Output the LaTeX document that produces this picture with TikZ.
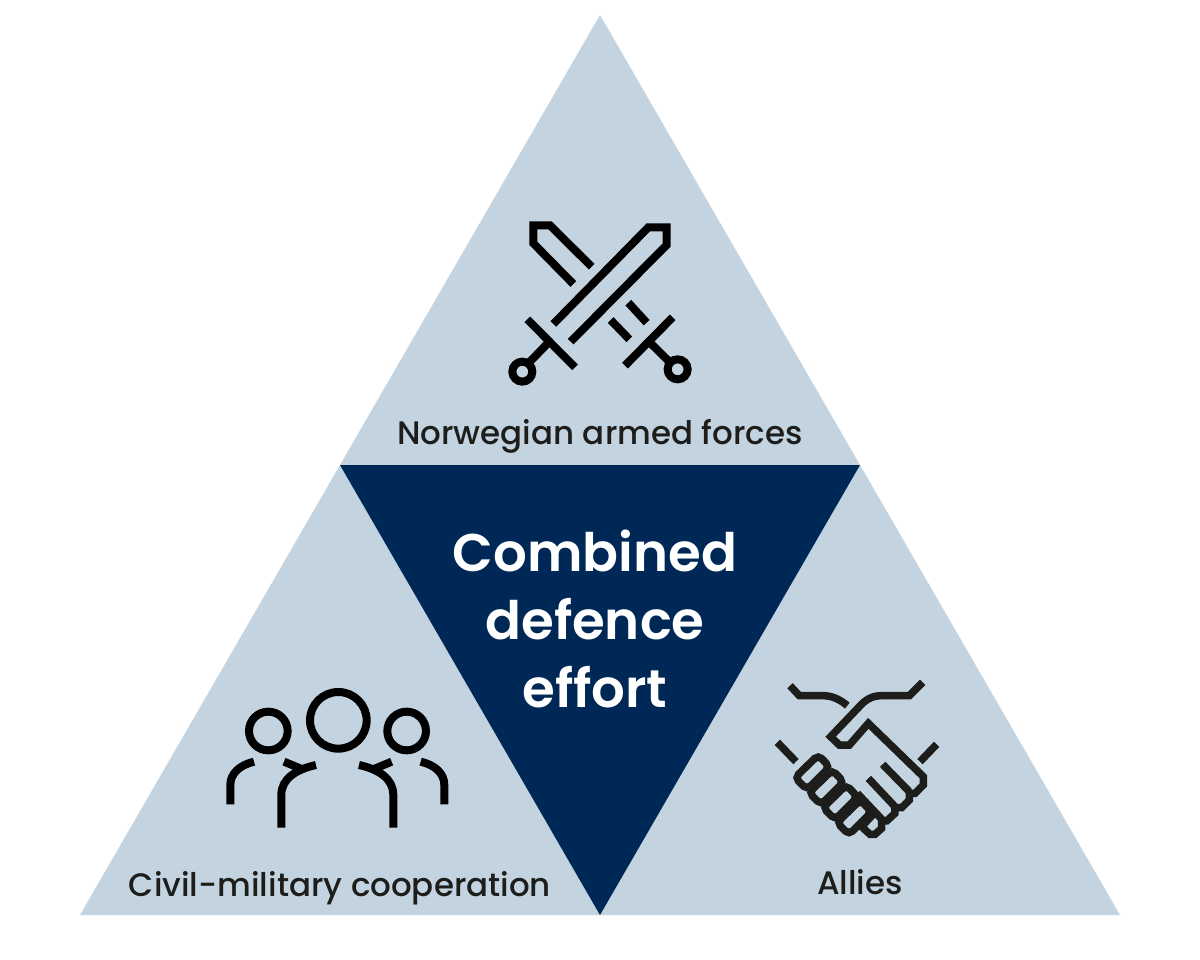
\documentclass[tikz,border=0pt]{standalone}
\usepackage{fontspec}
\setmainfont{Poppins Medium}
\newfontfamily\semi{Poppins SemiBold}
\begin{document}
\begin{tikzpicture}[x=1pt,y=-1pt,
  ico/.style={draw=black,line width=8pt,line cap=butt,line join=miter,fill=none},
  hand/.style={draw=#1,line width=7.5pt,line cap=butt,line join=miter,fill=none},
  lab/.style={anchor=base,text=#1,inner sep=0pt,font=\fontsize{32.5}{33}\selectfont},
  big/.style={anchor=base,text=white,inner sep=0pt,font=\semi\fontsize{53}{56}\selectfont}]
\definecolor{lightb}{HTML}{C3D3E0}
\definecolor{darkb}{HTML}{002856}
\definecolor{ink}{HTML}{1D1D1B}
\useasboundingbox (0,0) rectangle (1200,959);
\fill[white] (0,0) rectangle (1200,959);
\fill[lightb] (600,15) -- (1120,915) -- (80,915) -- cycle;
\fill[darkb] (340,465) -- (860,465) -- (600,915) -- cycle;
% swords
\begin{scope}[shift={(490,200)},x=0.3333pt,y=-0.3333pt]
\draw[ico] (305,200) -- (180,76) -- (130,76) -- (130,130) -- (250,252);
\draw[ico] (415,308) -- (470,368);
\draw[ico] (362,360) -- (418,418);
\draw[ico] (405,497) -- (548,352);
\draw[ico] (480,428) -- (543,490);
\draw[ico] (563,508) circle (30);
\draw[ico] (190,372) -- (475,82) -- (530,82) -- (530,135) -- (242,425);
\draw[ico] (112,358) -- (255,502);
\draw[ico] (175,428) -- (118,487);
\draw[ico] (97,515) circle (30);
\end{scope}
% people
\begin{scope}[shift={(210,670)},x=0.3333pt,y=-0.3333pt]
\draw[ico] (175,183) circle (58);
\draw[ico] (385,151) circle (85);
\draw[ico] (590,183) circle (58);
\draw[ico] (132,275) .. controls (90,285) and (61,310) .. (61,345) -- (61,403);
\draw[ico] (222,275) -- (280,299);
\draw[ico] (318,285) .. controls (260,298) and (214,325) .. (214,375) -- (214,473);
\draw[ico] (447,285) .. controls (505,298) and (550,325) .. (550,375) -- (550,473);
\draw[ico] (545,275) -- (487,299);
\draw[ico] (632,275) .. controls (675,285) and (703,310) .. (703,345) -- (703,403);
\end{scope}
% handshake
\begin{scope}[shift={(760,665)},x=0.3333pt,y=-0.3333pt]
\draw[hand=ink] (90,62) -- (118,92) -- (190,92) .. controls (215,92) and (240,103) .. (262,122);
\draw[hand=ink] (488,52) -- (448,92) -- (365,92) .. controls (335,92) and (315,105) .. (295,128) -- (212,215) -- (238,240) -- (268,240) -- (325,175) -- (490,335) -- (490,360) -- (465,385) -- (448,385) -- (448,405) -- (425,428) -- (405,428) -- (405,445) -- (380,468) -- (365,468) -- (365,490) -- (345,508) -- (330,508) -- (305,485) -- (345,442);
\draw[hand=ink] (368,298) -- (448,380);
\draw[hand=ink] (325,340) -- (405,425);
\draw[hand=ink] (52,232) -- (108,290);
\draw[hand=ink] (530,238) -- (480,290);
\draw[hand=ink] (292,385) -- (372,470);
\foreach \k in {0,1,2,3}
  \draw[hand=ink,rounded corners=5pt,shift={(42*\k,45*\k)}] (175,270) -- (209,306) -- (141,374) -- (105,338) -- cycle;
\end{scope}
\node[lab=ink] (forces) at (600,444) {Norwegian armed forces};
\node[lab=ink] (civil) at (340,896) {Civil-military cooperation};
\node[lab=ink] (allies) at (860,894) {Allies};
\node[big] (l1) at (595,571) {Combined};
\node[big] (l2) at (595,639) {defence};
\node[big] (l3) at (595,707) {effort};
\end{tikzpicture}
\end{document}
